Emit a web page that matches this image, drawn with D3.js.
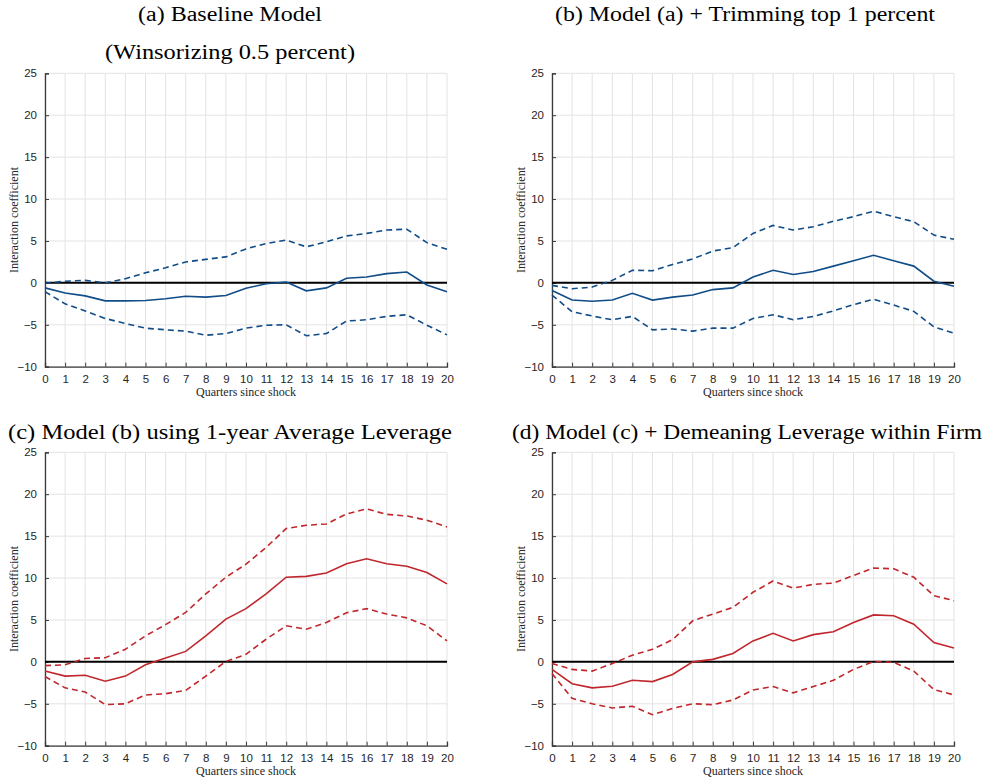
<!DOCTYPE html>
<html>
<head>
<meta charset="utf-8">
<script src="https://cdn.jsdelivr.net/npm/d3@7"></script>
<style>
  html, body { margin: 0; padding: 0; background: #fff; }
  svg { display: block; }
  .serif { font-family: "Liberation Serif", "Times New Roman", "DejaVu Serif", serif; }
  .sans { font-family: "Liberation Sans", Arial, Helvetica, sans-serif; }
</style>
</head>
<body>
<svg id="chart" width="985" height="782"></svg>
<script>
// ---------------- DATA ----------------
const quarters = d3.range(0, 21);
const xTicks = d3.range(0, 21);
const yTicks = [-10, -5, 0, 5, 10, 15, 20, 25];

const titlesA = ["(a) Baseline Model", "(Winsorizing 0.5 percent)"];
const titlesB = ["(b) Model (a) + Trimming top 1 percent"];
const titlesC = ["(c) Model (b) using 1-year Average Leverage"];
const titlesD = ["(d) Model (c) + Demeaning Leverage within Firm"];

const aCoef  = [-0.6,-1.2,-1.55,-2.15,-2.15,-2.1,-1.9,-1.6,-1.7,-1.5,-0.65,-0.1,0.1,-0.95,-0.6,0.55,0.7,1.1,1.3,-0.25,-1.05];
const aUpper = [-0.05,0.2,0.3,0.0,0.5,1.2,1.8,2.5,2.8,3.1,4.05,4.7,5.1,4.3,4.9,5.6,5.9,6.3,6.4,4.8,4.0];
const aLower = [-1.05,-2.5,-3.35,-4.25,-4.85,-5.4,-5.6,-5.75,-6.25,-6.05,-5.4,-5.05,-5.0,-6.3,-6.05,-4.55,-4.4,-4.0,-3.8,-5.05,-6.2];

const bCoef  = [-0.9,-2.05,-2.2,-2.05,-1.25,-2.05,-1.7,-1.45,-0.8,-0.6,0.7,1.5,1.0,1.35,2.0,2.65,3.3,2.65,2.0,0.2,-0.4];
const bUpper = [-0.3,-0.7,-0.5,0.3,1.5,1.45,2.2,2.85,3.8,4.2,5.9,6.85,6.3,6.7,7.35,7.9,8.55,7.9,7.3,5.7,5.2];
const bLower = [-1.45,-3.45,-3.95,-4.4,-4.0,-5.6,-5.5,-5.75,-5.4,-5.4,-4.25,-3.8,-4.4,-4.0,-3.35,-2.6,-1.95,-2.65,-3.4,-5.25,-6.0];

const cCoef  = [-1.1,-1.7,-1.6,-2.3,-1.7,-0.35,0.45,1.25,3.1,5.1,6.35,8.1,10.1,10.2,10.6,11.7,12.3,11.7,11.4,10.65,9.3];
const cUpper = [-0.45,-0.35,0.4,0.5,1.5,3.1,4.45,5.9,8.1,10.1,11.65,13.65,15.9,16.3,16.45,17.65,18.25,17.6,17.4,16.9,16.1];
const cLower = [-1.75,-3.1,-3.6,-5.1,-5.0,-3.95,-3.8,-3.4,-1.7,0.05,0.9,2.7,4.3,3.9,4.7,5.85,6.35,5.7,5.25,4.3,2.5];

const dCoef  = [-0.9,-2.6,-3.1,-2.9,-2.2,-2.35,-1.5,0.0,0.3,1.0,2.5,3.4,2.5,3.25,3.6,4.7,5.6,5.5,4.5,2.3,1.65];
const dUpper = [-0.2,-0.9,-1.1,-0.2,0.8,1.5,2.65,4.9,5.7,6.5,8.3,9.65,8.8,9.25,9.4,10.3,11.2,11.1,10.1,7.9,7.3];
const dLower = [-1.4,-4.35,-5.0,-5.5,-5.3,-6.3,-5.55,-5.0,-5.1,-4.55,-3.35,-2.95,-3.7,-2.95,-2.2,-0.9,0.05,-0.05,-1.1,-3.3,-3.95];

const blue = "#104c88";
const red = "#c0272d";

// ---------------- LAYOUT ----------------
const panels = [
  { titles: titlesA, titleY: [14, 52], titleX: 230, titleW: [184, 250], coef: aCoef, upper: aUpper, lower: aLower, color: blue, x0: 45, x1: 447, yTop: 73.3, yBot: 366.7 },
  { titles: titlesB, titleY: [14], titleX: 745, titleW: [380], coef: bCoef, upper: bUpper, lower: bLower, color: blue, x0: 552, x1: 954, yTop: 73.3, yBot: 366.7 },
  { titles: titlesC, titleY: [432], titleX: 230, titleW: [444], coef: cCoef, upper: cUpper, lower: cLower, color: red, x0: 45, x1: 447, yTop: 452.3, yBot: 745.7 },
  { titles: titlesD, titleY: [432], titleX: 747, titleW: [470], coef: dCoef, upper: dUpper, lower: dLower, color: red, x0: 552, x1: 954, yTop: 452.3, yBot: 745.7 }
];

const svg = d3.select("#chart");

panels.forEach(p => {
  const x = d3.scaleLinear().domain([0, 20]).range([p.x0, p.x1]);
  const y = d3.scaleLinear().domain([-10, 25]).range([p.yBot, p.yTop]);
  const g = svg.append("g");

  // titles
  p.titles.forEach((t, i) => {
    g.append("text").attr("class", "serif")
      .attr("x", p.titleX).attr("y", p.titleY[i])
      .attr("text-anchor", "middle").attr("dominant-baseline", "central")
      .attr("font-size", 20)
      .attr("textLength", p.titleW[i]).attr("lengthAdjust", "spacingAndGlyphs")
      .attr("fill", "#000").text(t);
  });

  // grid
  g.append("g").selectAll("line").data(xTicks).join("line")
    .attr("x1", d => x(d)).attr("x2", d => x(d))
    .attr("y1", y(-10)).attr("y2", y(25))
    .attr("stroke", "#e3e3e3").attr("stroke-width", 1);
  g.append("g").selectAll("line").data(yTicks).join("line")
    .attr("x1", x(0)).attr("x2", x(20))
    .attr("y1", d => y(d)).attr("y2", d => y(d))
    .attr("stroke", "#e3e3e3").attr("stroke-width", 1);

  // axes
  const xAxis = d3.axisBottom(x).tickValues(xTicks).tickSize(-4).tickPadding(8).tickFormat(d3.format("d"));
  const yAxis = d3.axisLeft(y).tickValues(yTicks).tickSize(-4).tickPadding(8).tickFormat(d3.format("d"));
  const gx = g.append("g").attr("transform", `translate(0,${y(-10)})`).call(xAxis);
  const gy = g.append("g").attr("transform", `translate(${x(0)},0)`).call(yAxis);
  [gx, gy].forEach(ax => {
    ax.attr("font-family", null);
    ax.select(".domain").attr("stroke", "#3a3a3a").attr("stroke-width", 1.3);
    ax.selectAll(".tick line").attr("stroke", "#3a3a3a");
    ax.selectAll(".tick text").attr("class", "sans").attr("font-size", 11.5).attr("fill", "#262626");
  });

  // zero line
  g.append("line")
    .attr("x1", x(0)).attr("x2", x(20)).attr("y1", y(0)).attr("y2", y(0))
    .attr("stroke", "#000").attr("stroke-width", 2);

  const line = d3.line().x((d, i) => x(quarters[i])).y(d => y(d));
  [[p.upper, "6,4"], [p.lower, "6,4"], [p.coef, null]].forEach(([vals, dash]) => {
    g.append("path").datum(vals)
      .attr("d", line).attr("fill", "none")
      .attr("stroke", p.color).attr("stroke-width", 1.6)
      .attr("stroke-dasharray", dash);
  });

  // axis labels
  g.append("text").attr("class", "serif")
    .attr("x", (p.x0 + p.x1) / 2).attr("y", y(-10) + 25)
    .attr("text-anchor", "middle").attr("dominant-baseline", "central")
    .attr("font-size", 12).attr("fill", "#262626")
    .text("Quarters since shock");
  g.append("text").attr("class", "serif")
    .attr("transform", `translate(${p.x0 - 31},${(p.yTop + p.yBot) / 2}) rotate(-90)`)
    .attr("text-anchor", "middle").attr("dominant-baseline", "central")
    .attr("font-size", 12).attr("fill", "#262626")
    .text("Interaction coefficient");
});
</script>
</body>
</html>
